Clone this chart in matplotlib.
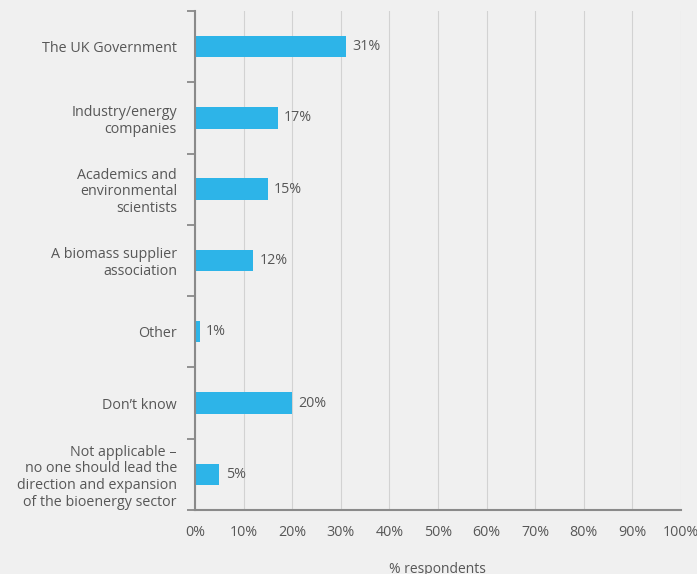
import numpy as np
import matplotlib
matplotlib.use("Agg")
import matplotlib.pyplot as plt
from matplotlib.ticker import FixedLocator

# survey answers: who should lead the bioenergy sector
categories = [
    "The UK Government",
    "Industry/energy\ncompanies",
    "Academics and\nenvironmental\nscientists",
    "A biomass supplier\nassociation",
    "Other",
    "Don\u2019t know",
    "Not applicable \u2013\nno one should lead the\ndirection and expansion\nof the bioenergy sector",
]
values = [31, 17, 15, 12, 1, 20, 5]
xticks = list(range(0, 101, 10))

bg = "#f0f0f0"
bar_col = "#2db4e8"
txt_col = "#575757"
spine_col = "#8a8a8a"

plt.rcParams["font.family"] = ["Open Sans", "DejaVu Sans"]
plt.rcParams["font.size"] = 10

fig = plt.figure(figsize=(6.97, 5.74), dpi=100, facecolor=bg)
ax = fig.add_axes([0.2798, 0.1115, 0.697, 0.8695], facecolor=bg)

y = np.arange(len(categories))
ax.barh(y, values, height=0.3, color=bar_col, zorder=3)
for yi, v in zip(y, values):
    ax.text(v + 1.3, yi, f"{v}%", va="center", ha="left", color=txt_col, fontsize=10.3)

ax.set_xlim(0, 100)
ax.set_ylim(len(categories) - 0.5, -0.5)

ax.set_xticks(xticks)
ax.set_xticklabels([f"{t}%" for t in xticks])
ax.xaxis.grid(True, color="#d2d2d2", linewidth=0.8, zorder=0)
ax.tick_params(axis="x", length=0, pad=11, colors=txt_col, labelsize=10.3)

ax.set_yticks(y)
ax.set_yticklabels(categories, linespacing=1.15)
ax.yaxis.set_minor_locator(FixedLocator(np.arange(-0.5, len(categories), 1.0)))
ax.tick_params(axis="y", which="major", length=0, pad=13, colors=txt_col, labelsize=10.3)
ax.tick_params(axis="y", which="minor", length=6, width=1.3, color=spine_col)

for s in ["top", "right"]:
    ax.spines[s].set_visible(False)
for s in ["left", "bottom"]:
    ax.spines[s].set_color(spine_col)
    ax.spines[s].set_linewidth(1.5)
    ax.spines[s].set_zorder(4)

ax.set_xlabel("% respondents", color=txt_col, fontsize=10, labelpad=16)

fig.savefig("out.png", dpi=100, facecolor=bg)
